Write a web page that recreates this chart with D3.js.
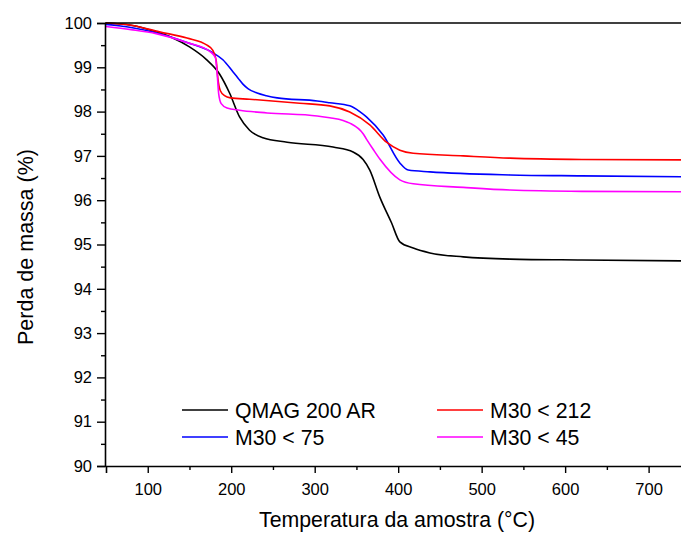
<!DOCTYPE html>
<html><head><meta charset="utf-8">
<script src="https://cdn.jsdelivr.net/npm/d3@7"></script>
<style>body{margin:0;background:#fff;} svg{display:block;font-family:Arial,"Liberation Sans",sans-serif;}</style>
</head><body>
<svg id="c" width="681" height="533"></svg>
<script>
const xTicks = [100,200,300,400,500,600,700];
const yTicks = [90,91,92,93,94,95,96,97,98,99,100];
const seriesNames = ["QMAG 200 AR","M30 < 212","M30 < 75","M30 < 45"];
const seriesColors = ["#000000","#ff0000","#0000ff","#ff00ff"];
const qmagT = [50,80,110,130,150,170,186,198,210,222,238,267,322,346,358,366,378,392,402,418,438,478,534,620,740];
const qmagV = [100,99.95,99.8,99.66,99.46,99.18,98.85,98.42,97.88,97.58,97.41,97.31,97.2,97.09,96.92,96.68,96.07,95.49,95.06,94.92,94.81,94.72,94.67,94.65,94.63];
const m212T = [50,80,114,147,171,178,182,184,187,192,199,222,282,318,342,366,386,402,418,478,534,620,740];
const m212V = [100,99.95,99.8,99.66,99.5,99.38,99.15,98.75,98.47,98.36,98.31,98.28,98.19,98.13,97.99,97.7,97.31,97.13,97.06,97.0,96.95,96.92,96.91];
const m75T = [50,80,110,147,178,190,202,208,214,220,231,242,255,303,318,342,354,362,382,402,412,438,534,620,740];
const m75V = [99.97,99.9,99.78,99.56,99.33,99.17,98.9,98.76,98.62,98.52,98.42,98.36,98.31,98.24,98.2,98.13,98.0,97.88,97.47,96.84,96.68,96.64,96.57,96.55,96.53];
const m45T = [50,80,110,147,175,181,183,185,188,195,210,243,303,318,334,342,358,362,370,378,402,418,478,534,620,740];
const m45V = [99.92,99.85,99.76,99.56,99.35,99.22,98.9,98.4,98.18,98.08,98.03,97.97,97.9,97.86,97.8,97.74,97.5,97.38,97.15,96.93,96.46,96.37,96.29,96.23,96.2,96.19];

const svg = d3.select("#c");
const x = d3.scaleLinear().domain([50,740]).range([106,682]);
const y = d3.scaleLinear().domain([90,100]).range([466,23]);

svg.append("defs").append("clipPath").attr("id","clip").append("rect")
  .attr("x",106).attr("y",18).attr("width",580).attr("height",450);

const data = [[qmagT,qmagV],[m212T,m212V],[m75T,m75V],[m45T,m45V]];
const line = d3.line().x(d=>x(d[0])).y(d=>y(d[1])).curve(d3.curveMonotoneX);
const order = [0,2,1,3];
order.forEach(i=>{
  const pts = data[i][0].map((t,k)=>[t,data[i][1][k]]);
  svg.append("path").attr("clip-path","url(#clip)").attr("d",line(pts))
    .attr("fill","none").attr("stroke",seriesColors[i]).attr("stroke-width",1.6);
});

// top frame
svg.append("line").attr("x1",105).attr("x2",681).attr("y1",y(100)).attr("y2",y(100))
  .attr("stroke","#000").attr("stroke-width",1.6);

// x axis
const xa = svg.append("g").attr("transform","translate(0,466)");
xa.call(d3.axisBottom(x).tickValues(xTicks).tickFormat(d3.format("d")).tickSize(7).tickPadding(10));
const xMinor = svg.append("g").attr("transform","translate(0,466)");
xMinor.call(d3.axisBottom(x).tickValues([150,250,350,450,550,650]).tickFormat("").tickSize(4));
xMinor.select(".domain").remove();
// y axis
const ya = svg.append("g").attr("transform","translate(105,0)");
ya.call(d3.axisLeft(y).tickValues(yTicks).tickFormat(d3.format("d")).tickSize(8).tickPadding(5));
const yMinor = svg.append("g").attr("transform","translate(105,0)");
yMinor.call(d3.axisLeft(y).tickValues(d3.range(90.5,100,1)).tickFormat("").tickSize(4));
yMinor.select(".domain").remove();
svg.selectAll(".domain").attr("stroke","#000").attr("stroke-width",1.6);
svg.selectAll(".tick line").attr("stroke","#000").attr("stroke-width",1.4);
svg.selectAll(".tick text").attr("font-size",16.5).attr("fill","#000").attr("font-family","Arial, 'Liberation Sans', sans-serif");

// axis titles
svg.append("text").attr("x",397).attr("y",527).attr("text-anchor","middle")
  .attr("font-size",21.3).text("Temperatura da amostra (°C)");
svg.append("text").attr("transform","translate(33,247) rotate(-90)").attr("text-anchor","middle")
  .attr("font-size",21.5).text("Perda de massa (%)");

// legend
const legPos = [[182,410],[437,410],[182,437],[437,437]];
const legIdx = [0,1,2,3];
legIdx.forEach((i,k)=>{
  const [lx,ly] = legPos[k];
  svg.append("line").attr("x1",lx).attr("x2",lx+46).attr("y1",ly).attr("y2",ly)
    .attr("stroke",seriesColors[i]).attr("stroke-width",1.6);
  svg.append("text").attr("x",lx+53).attr("y",ly+7.5).attr("font-size",21.3).text(seriesNames[i]);
});
</script>
</body></html>
